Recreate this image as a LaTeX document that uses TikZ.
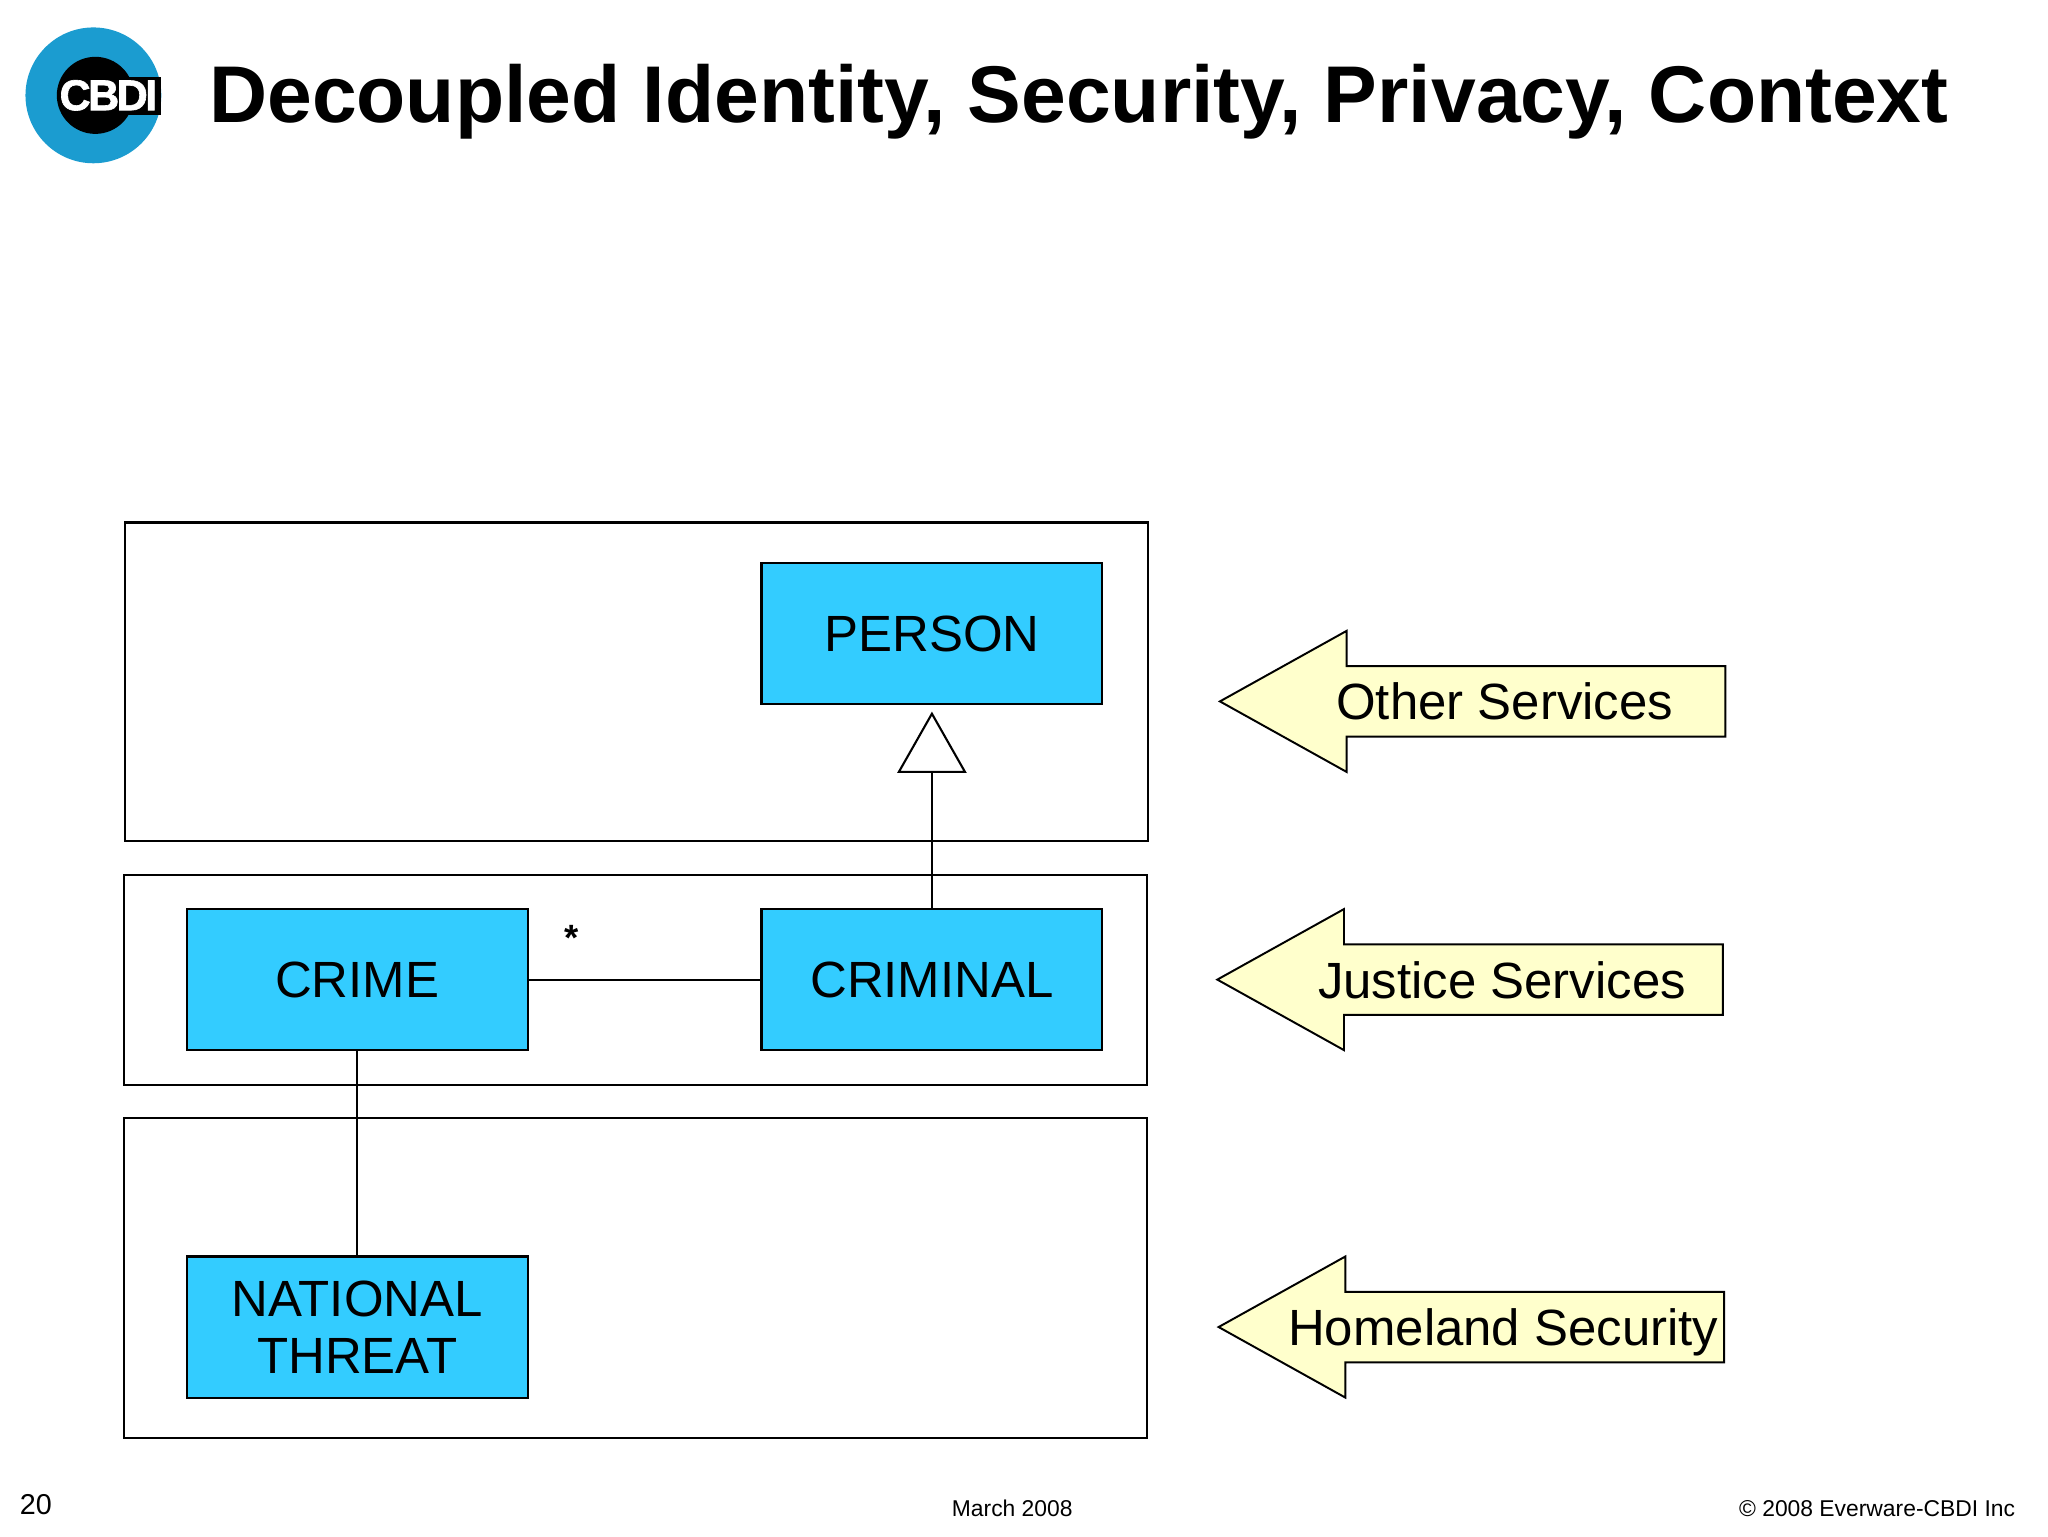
\documentclass[tikz,border=0pt]{standalone}
\usepackage{fontspec}
\setmainfont{Liberation Sans}
\usetikzlibrary{arrows.meta}
\definecolor{boxblue}{HTML}{33CCFF}
\definecolor{tagyellow}{HTML}{FFFFCC}
\definecolor{logoblue}{HTML}{1B9CD0}
\tikzset{
  x=1pt,y=-1pt,
  layer/.style={draw=black,line width=1.6pt,fill=white},
  klass/.style={draw=black,line width=1.6pt,fill=boxblue,minimum width=261pt,minimum height=108pt,inner sep=0pt,align=center,font=\fontsize{39}{44}\selectfont},
  tag/.style={draw=black,line width=1.5pt,fill=tagyellow,line join=miter},
  taglabel/.style={inner sep=0pt,text depth=0pt,font=\fontsize{39}{44}\selectfont},
  link/.style={draw=black,line width=1.6pt},
  foot/.style={inner sep=0pt,font=\fontsize{17.5}{20}\selectfont}
}
\newcommand{\leftarrowtag}[2]{%
  \draw[tag] (#1,#2) -- ++(97,-54) -- ++(0,27) -- ++(290,0) -- ++(0,54) -- ++(-290,0) -- ++(0,27) -- cycle;
}
\begin{document}
\begin{tikzpicture}
\useasboundingbox (0,0) rectangle (1568,1176);
\fill[white] (0,0) rectangle (1568,1176);
% logo
\fill[logoblue] (71.5,73) circle (52);
\fill[black] (73,73) circle (29.5);
\fill[black] (95,59) rectangle (123,88);
\node[inner sep=0pt,text=white,font=\bfseries\fontsize{33}{36}\selectfont] (logo) at (83,73) {\addfontfeature{LetterSpace=-6,FakeBold=1.5}CBDI};
% title
\node[anchor=west,inner sep=0pt,text depth=0pt,font=\bfseries\fontsize{61.6}{70}\selectfont] (title) at (160,71.5) {Decoupled Identity, Security, Privacy, Context};
% layers
\draw[layer] (96,400) rectangle (879,644);
\draw[layer] (95,670) rectangle (878,831);
\draw[layer] (95,856) rectangle (878,1101);
% classes
\node[klass] (person) at (713.5,485) {PERSON};
\node[klass] (crime) at (273.5,750) {CRIME};
\node[klass] (criminal) at (713.5,750) {CRIMINAL};
\node[klass] (threat) at (273.5,1016) {NATIONAL\\THREAT};
% connectors
\draw[link,-{Triangle[open,length=47pt,width=53pt]}] (criminal.north) -- ([yshift=-5pt]person.south);
\draw[link] (crime.east) -- (criminal.west);
\draw[link] (crime.south) -- (threat.north);
\node[inner sep=0pt,font=\bfseries\fontsize{28}{30}\selectfont] (star) at (438,718) {*};
% arrows
\leftarrowtag{934}{537}
\node[taglabel] (other) at (1152,537) {Other Services};
\leftarrowtag{932}{750}
\node[taglabel] (justice) at (1150,750) {Justice Services};
\leftarrowtag{933}{1016}
\node[taglabel] (homeland) at (1151,1016) {Homeland Security};
% footer
\node[anchor=west,inner sep=0pt,font=\fontsize{22}{24}\selectfont] (page) at (15,1152) {20};
\node[foot] (date) at (775,1155) {March 2008};
\node[foot,anchor=east] (copy) at (1543,1155) {© 2008 Everware-CBDI Inc};
\end{tikzpicture}
\end{document}
